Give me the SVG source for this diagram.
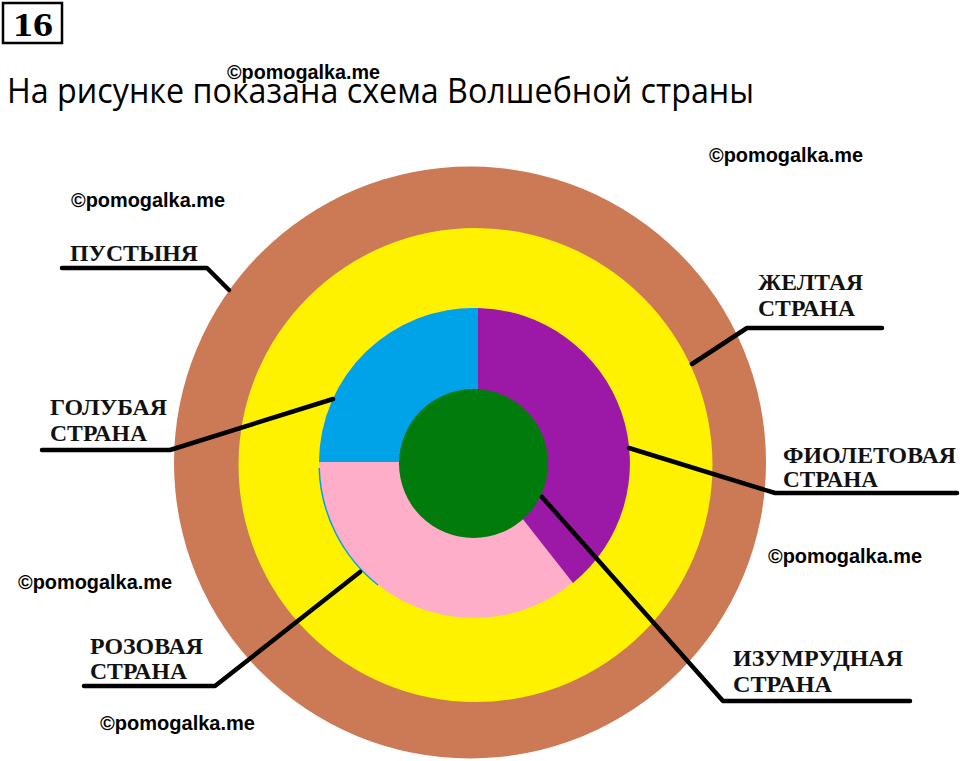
<svg xmlns="http://www.w3.org/2000/svg" width="960" height="761" viewBox="0 0 960 761">
  <style>
    .lbl { font-family: "Liberation Serif", "Times New Roman", serif; font-weight: bold; font-size: 23px; fill: #111; }
    .wm { font-family: "Liberation Sans", Arial, sans-serif; font-weight: bold; font-size: 19.5px; fill: #000; }
    .title { font-family: "Open Sans", "Noto Sans", sans-serif; font-size: 34px; fill: #000; }
    .lead { fill: none; stroke: #000; stroke-width: 4.5; stroke-linecap: round; stroke-linejoin: round; }
  </style>
  <rect width="960" height="761" fill="#fff"/>

  <g id="number">
    <rect x="3" y="3" width="59" height="40" fill="none" stroke="#000" stroke-width="2.5"/>
    <text x="13" y="36" font-family="Liberation Serif, serif" font-weight="bold" font-size="34" textLength="40" lengthAdjust="spacingAndGlyphs">16</text>
  </g>

  <text class="title" x="7" y="103" textLength="747" lengthAdjust="spacingAndGlyphs">На рисунке показана схема Волшебной страны</text>

  <g id="desert">
    <circle cx="470" cy="462.5" r="296" fill="#cc7a55"/>
  </g>
  <g id="yellow">
    <circle cx="475.5" cy="465" r="237" fill="#fff200"/>
  </g>
  <g id="pink">
    <circle cx="474" cy="463" r="155" fill="#ffaec9"/>
    <path d="M319.2,468 A155,155 0 0,0 378,585" fill="none" stroke="#00a2e8" stroke-width="1.5"/>
  </g>
  <g id="blue">
    <path d="M478,462 L319,462 A155,155 0 0,1 478,308 Z" fill="#00a2e8"/>
  </g>
  <g id="violet">
    <path d="M478,462 L478,308 A155,155 0 0,1 573,583 Z" fill="#9c19a8"/>
  </g>
  <g id="emerald">
    <circle cx="473.5" cy="463.5" r="74.5" fill="#007b0c"/>
  </g>

  <g id="connectors">
    <polyline class="lead" points="62,268 207,268 229,290"/>
    <polyline class="lead" points="42,450 170,450 333,399"/>
    <polyline class="lead" points="692,364 747,328 882,328"/>
    <polyline class="lead" points="629,448 775,493 957,493"/>
    <polyline class="lead" points="84,686 215,686 360,572"/>
    <polyline class="lead" points="542,497 723,701 910,701"/>
  </g>

  <g id="label-desert">
    <text class="lbl" x="70" y="261" textLength="128" lengthAdjust="spacingAndGlyphs">ПУСТЫНЯ</text>
  </g>
  <g id="label-blue">
    <text class="lbl" x="50" y="415" textLength="117" lengthAdjust="spacingAndGlyphs">ГОЛУБАЯ</text>
    <text class="lbl" x="50" y="441" textLength="97" lengthAdjust="spacingAndGlyphs">СТРАНА</text>
  </g>
  <g id="label-yellow">
    <text class="lbl" x="758" y="290" textLength="105" lengthAdjust="spacingAndGlyphs">ЖЕЛТАЯ</text>
    <text class="lbl" x="758" y="316" textLength="97" lengthAdjust="spacingAndGlyphs">СТРАНА</text>
  </g>
  <g id="label-violet">
    <text class="lbl" x="783" y="463" textLength="173" lengthAdjust="spacingAndGlyphs">ФИОЛЕТОВАЯ</text>
    <text class="lbl" x="783" y="487" textLength="95" lengthAdjust="spacingAndGlyphs">СТРАНА</text>
  </g>
  <g id="label-pink">
    <text class="lbl" x="90" y="654" textLength="113" lengthAdjust="spacingAndGlyphs">РОЗОВАЯ</text>
    <text class="lbl" x="90" y="679" textLength="97" lengthAdjust="spacingAndGlyphs">СТРАНА</text>
  </g>
  <g id="label-emerald">
    <text class="lbl" x="733" y="666" textLength="170" lengthAdjust="spacingAndGlyphs">ИЗУМРУДНАЯ</text>
    <text class="lbl" x="733" y="692" textLength="99" lengthAdjust="spacingAndGlyphs">СТРАНА</text>
  </g>

  <g id="watermarks">
    <text class="wm" x="227" y="79" textLength="153" lengthAdjust="spacingAndGlyphs">©pomogalka.me</text>
    <text class="wm" x="709" y="162" textLength="154" lengthAdjust="spacingAndGlyphs">©pomogalka.me</text>
    <text class="wm" x="71" y="207" textLength="154" lengthAdjust="spacingAndGlyphs">©pomogalka.me</text>
    <text class="wm" x="18" y="589" textLength="154" lengthAdjust="spacingAndGlyphs">©pomogalka.me</text>
    <text class="wm" x="100" y="730" textLength="155" lengthAdjust="spacingAndGlyphs">©pomogalka.me</text>
    <text class="wm" x="768" y="563" textLength="154" lengthAdjust="spacingAndGlyphs">©pomogalka.me</text>
  </g>
</svg>
